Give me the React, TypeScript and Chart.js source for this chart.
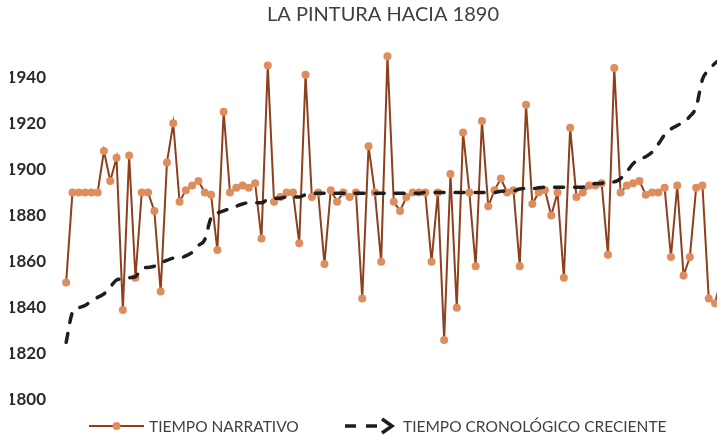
import React, { useEffect, useRef } from 'react';
import { Chart, registerables } from 'chart.js';

Chart.register(...registerables);

const chartTitle = 'LA PINTURA HACIA 1890';
const narrativeLabel = 'TIEMPO NARRATIVO';
const chronoLabel = 'TIEMPO CRONOLÓGICO CRECIENTE';

// Narrative time (year of each painting, in narrative order)
const narrativeTime = [
  1851, 1890, 1890, 1890, 1890, 1890, 1908, 1895, 1905, 1839,
  1906, 1853, 1890, 1890, 1882, 1847, 1903, 1920, 1886, 1891,
  1893, 1895, 1890, 1889, 1865, 1925, 1890, 1892, 1893, 1892,
  1894, 1870, 1945, 1886, 1888, 1890, 1890, 1868, 1941, 1888,
  1890, 1859, 1891, 1886, 1890, 1888, 1890, 1844, 1910, 1890,
  1860, 1949, 1886, 1882, 1888, 1890, 1890, 1890, 1860, 1890,
  1826, 1898, 1840, 1916, 1890, 1858, 1921, 1884, 1891, 1896,
  1890, 1891, 1858, 1928, 1885, 1890, 1891, 1880, 1890, 1853,
  1918, 1888, 1890, 1893, 1893, 1894, 1863, 1944, 1890, 1893,
  1894, 1895, 1889, 1890, 1890, 1892, 1862, 1893, 1854, 1862,
  1892, 1893, 1844, 1842, 1853,
];

// Chronological (sorted) time
const chronologicalTime = [
  1825, 1838, 1840, 1841, 1843, 1844.5, 1846, 1849, 1852, 1852.5,
  1853, 1853.5, 1857, 1857.5, 1858, 1859.5, 1860.5, 1861.5, 1861.5, 1862.5,
  1864, 1867, 1869.5, 1879, 1881, 1882, 1883, 1884, 1885, 1885.5,
  1885.5, 1885.5, 1887, 1887.4, 1887.5, 1888, 1888, 1888, 1889, 1889.6,
  1889.6, 1889.6, 1889.6, 1889.6, 1889.6, 1889.6, 1889.6, 1889.6, 1889.6, 1889.6,
  1889.6, 1889.6, 1889.6, 1889.6, 1889.6, 1889.6, 1889.6, 1890, 1890, 1890,
  1890, 1890, 1890, 1890, 1890, 1890, 1890, 1890, 1890, 1890.5,
  1890.7, 1890.7, 1891.5, 1891.7, 1891.7, 1892, 1892.3, 1892.3, 1892.3, 1892.3,
  1892.3, 1892.3, 1892.3, 1893.5, 1893.8, 1894, 1894.5, 1894.6, 1896, 1899,
  1902.5, 1904.5, 1905.5, 1907.5, 1911, 1915, 1917.5, 1919, 1920.5, 1923,
  1927, 1939, 1943, 1946, 1948,
];

// Category slots (the original chart extends beyond the visible crop)
const categoryCount = 110;
const categories = Array.from({ length: categoryCount }, (_, i) => String(i + 1));

const yTicks = { min: 1800, max: 1960, step: 20, lastLabelled: 1940 };

const LINE_COLOR = '#8E3F1C';
const MARKER_COLOR = '#DE8D5E';
const DASH_COLOR = '#1E1E1E';
const TEXT_COLOR = '#404040';

const legendPlugin = {
  id: 'customLegend',
  afterDraw(chart: any) {
    const ctx = chart.ctx as CanvasRenderingContext2D;
    const y = 426;
    ctx.save();
    // item 1: line with marker
    ctx.strokeStyle = LINE_COLOR;
    ctx.lineWidth = 2;
    ctx.beginPath();
    ctx.moveTo(89, y);
    ctx.lineTo(144, y);
    ctx.stroke();
    ctx.fillStyle = MARKER_COLOR;
    ctx.beginPath();
    ctx.arc(116.5, y, 4, 0, Math.PI * 2);
    ctx.fill();
    ctx.font = '15.5px Lato';
    ctx.fillStyle = TEXT_COLOR;
    ctx.textBaseline = 'middle';
    ctx.textAlign = 'left';
    ctx.fillText(narrativeLabel, 149, y + 1);
    // item 2: dashed with arrow
    ctx.strokeStyle = DASH_COLOR;
    ctx.lineWidth = 3.5;
    ctx.lineCap = 'butt';
    ctx.beginPath();
    ctx.moveTo(345, y);
    ctx.lineTo(356, y);
    ctx.moveTo(366, y);
    ctx.lineTo(377, y);
    ctx.stroke();
    ctx.lineWidth = 3.5;
    ctx.lineJoin = 'miter';
    ctx.beginPath();
    ctx.moveTo(382, y - 7);
    ctx.lineTo(392, y);
    ctx.lineTo(382, y + 7);
    ctx.stroke();
    ctx.fillText(chronoLabel, 403, y + 1);
    ctx.restore();
  },
};

export default function App() {
  const canvasRef = useRef<HTMLCanvasElement | null>(null);

  useEffect(() => {
    if (!canvasRef.current) return;
    const chart = new Chart(canvasRef.current, {
      type: 'line',
      data: {
        labels: categories,
        datasets: [
          {
            label: narrativeLabel,
            data: narrativeTime,
            borderColor: LINE_COLOR,
            borderWidth: 2,
            backgroundColor: MARKER_COLOR,
            pointBackgroundColor: MARKER_COLOR,
            pointBorderColor: MARKER_COLOR,
            pointBorderWidth: 0,
            pointRadius: 4,
            tension: 0,
            order: 1,
          },
          {
            label: chronoLabel,
            data: chronologicalTime,
            borderColor: DASH_COLOR,
            borderWidth: 3.5,
            borderDash: [9, 11],
            borderCapStyle: 'round',
            pointRadius: 0,
            tension: 0.3,
            cubicInterpolationMode: 'monotone',
            order: 0,
          },
        ],
      },
      options: {
        responsive: false,
        animation: false,
        layout: { padding: { left: 10, right: 10, top: 0, bottom: 43 } },
        plugins: {
          legend: { display: false },
          tooltip: { enabled: false },
          title: {
            display: true,
            text: chartTitle,
            color: TEXT_COLOR,
            font: { family: 'Lato', size: 20, weight: 'normal', lineHeight: 1.2 },
            padding: { top: 3, bottom: 4 },
          },
        },
        scales: {
          x: {
            type: 'category',
            offset: true,
            display: false,
            grid: { display: false },
          },
          y: {
            min: yTicks.min,
            max: yTicks.max,
            border: { display: false },
            grid: { display: false, drawTicks: false },
            afterFit: (scale: any) => {
              scale.width = 53;
            },
            ticks: {
              stepSize: yTicks.step,
              padding: 17,
              color: '#2B2B2B',
              font: { family: 'Lato', size: 17, weight: 'bold' },
              callback: (v: any) => (Number(v) <= yTicks.lastLabelled ? String(v) : ''),
            },
          },
        },
      },
      plugins: [legendPlugin],
    });
    return () => chart.destroy();
  }, []);

  return (
    <div
      style={{
        position: 'fixed',
        left: 0,
        top: 0,
        width: 717,
        height: 443,
        overflow: 'hidden',
        background: '#ffffff',
      }}
    >
      <canvas ref={canvasRef} width={766} height={443} style={{ display: 'block' }} />
    </div>
  );
}
